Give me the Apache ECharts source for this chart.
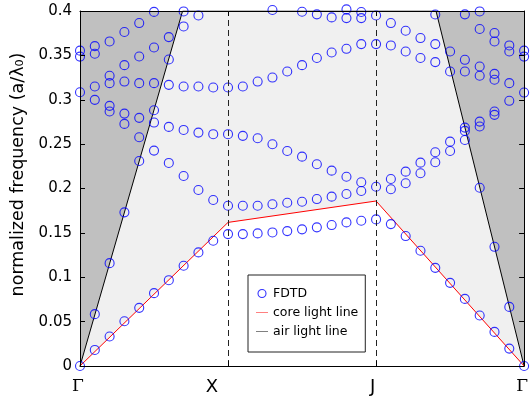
<!DOCTYPE html>
<html lang="en">
<head>
<meta charset="UTF-8">
<title>band diagram</title>
<script src="https://cdn.jsdelivr.net/npm/echarts@6/dist/echarts.min.js"></script>
<style>html,body{margin:0;padding:0;background:#fff;}</style>
</head>
<body>
<div id="main" style="width:531px;height:398px;"></div>
<script>
// k path positions (index along the path) and their labels
var kTicks = [0, 10, 20, 30];
var kLabels = ['Γ', 'X', 'J', 'Γ'];

// FDTD frequencies (a/λ0) read at each k index 0..30
var fdtd = [
    [0, 0.3084, 0.3486, 0.3553],
    [0.0181, 0.0584, 0.2999, 0.3149, 0.3518, 0.3604],
    [0.0332, 0.1159, 0.2867, 0.2931, 0.3187, 0.327, 0.3657],
    [0.0504, 0.1731, 0.2728, 0.2844, 0.3205, 0.339, 0.3763],
    [0.0655, 0.231, 0.2578, 0.2796, 0.3187, 0.3487, 0.3864],
    [0.0821, 0.2427, 0.2743, 0.2882, 0.3187, 0.3589, 0.399],
    [0.0967, 0.2288, 0.2694, 0.3168, 0.3454, 0.3706],
    [0.1129, 0.2141, 0.266, 0.3149, 0.3826, 0.3995],
    [0.128, 0.1983, 0.263, 0.3149, 0.395],
    [0.1411, 0.187, 0.2612, 0.3138],
    [0.1486, 0.1806, 0.2612, 0.3138],
    [0.1486, 0.1806, 0.2593, 0.3149],
    [0.1494, 0.1806, 0.2566, 0.3205],
    [0.1505, 0.1822, 0.2499, 0.325, 0.4011],
    [0.152, 0.184, 0.2423, 0.3318],
    [0.154, 0.1851, 0.2359, 0.339, 0.3992],
    [0.1562, 0.1881, 0.2273, 0.347, 0.3962],
    [0.1588, 0.1908, 0.2201, 0.3533, 0.3928],
    [0.1618, 0.1938, 0.2133, 0.3574, 0.392, 0.4018],
    [0.1637, 0.1972, 0.207, 0.3627, 0.392, 0.3989],
    [0.1652, 0.202, 0.3627, 0.395],
    [0.1599, 0.1991, 0.2107, 0.3612, 0.3864],
    [0.1464, 0.2059, 0.219, 0.3544, 0.3778],
    [0.1298, 0.2172, 0.2291, 0.347, 0.3695],
    [0.1106, 0.2296, 0.2409, 0.3424, 0.3627, 0.396],
    [0.0937, 0.2423, 0.2528, 0.3318, 0.3544],
    [0.0756, 0.2547, 0.2649, 0.2686, 0.3318, 0.345, 0.3962],
    [0.0569, 0.2009, 0.2698, 0.2754, 0.327, 0.3375, 0.3797, 0.3995],
    [0.0384, 0.1343, 0.283, 0.2867, 0.3225, 0.3292, 0.3657, 0.3752],
    [0.0196, 0.0666, 0.2988, 0.3187, 0.3544, 0.3612],
    [0, 0.3081, 0.3486, 0.3553]
];

// light lines (corner points)
var coreLineK = [0, 10, 20, 30];
var coreLineF = [0, 0.1618, 0.1859, 0];
var airLineK = [0, 6.93, 24.05, 30];
var airLineF = [0, 0.4, 0.4, 0];

var pts = [];
for (var k = 0; k < fdtd.length; k++) {
    for (var j = 0; j < fdtd[k].length; j++) pts.push([k, fdtd[k][j]]);
}
function pairs(xs, ys) {
    var out = [];
    for (var i = 0; i < xs.length; i++) out.push([xs[i], ys[i]]);
    return out;
}

var sans = 'DejaVu Sans';
var lineIcon = 'path://M0,0L24,0L24,1L0,1Z';
var myChart = echarts.init(document.getElementById('main'));

var frameLine = {show: true, onZero: false, lineStyle: {color: '#000', width: 1}};
var tick = {show: true, inside: true, length: 5, lineStyle: {color: '#000', width: 1}};

var option = {
    animation: false,
    grid: {left: 80, right: 2, top: 11, bottom: 32, show: true, backgroundColor: '#c0c0c0', borderWidth: 0},
    legend: {
        data: [
            {name: 'FDTD', icon: 'circle', itemStyle: {color: 'rgba(0,0,0,0)', borderColor: '#0000ff', borderWidth: 1.1}},
            {name: 'core light line', icon: lineIcon},
            {name: 'air light line', icon: lineIcon}
        ],
        orient: 'vertical', left: 248, top: 275,
        itemWidth: 12, itemHeight: 8, itemGap: 6,
        symbolKeepAspect: true,
        padding: [12, 7, 14, 8],
        backgroundColor: '#fff', borderColor: '#222', borderWidth: 1,
        selectedMode: false,
        textStyle: {fontFamily: sans, fontSize: 12.5, color: '#000'}
    },
    xAxis: [{
        type: 'value', min: 0, max: 30, interval: 10, position: 'bottom', z: 10,
        axisLine: frameLine, axisTick: tick, splitLine: {show: false},
        axisLabel: {
            margin: 12, color: '#000',
            formatter: function (v) {
                var i = kTicks.indexOf(v);
                return i < 0 ? '' : '{l' + i + '|' + kLabels[i] + '}';
            },
            rich: {
                l0: {fontFamily: 'DejaVu Serif', fontSize: 17, color: '#000', padding: [0, 4, 0, 0]},
                l1: {fontFamily: sans, fontSize: 18, color: '#000', padding: [0, 32, 0, 0]},
                l2: {fontFamily: sans, fontSize: 18, color: '#000', padding: [0, 7, 0, 0]},
                l3: {fontFamily: 'DejaVu Serif', fontSize: 17, color: '#000', padding: [0, 4, 0, 0]}
            }
        }
    }, {
        type: 'value', min: 0, max: 30, interval: 10, position: 'top', z: 10,
        axisLine: frameLine, axisTick: tick, splitLine: {show: false}, axisLabel: {show: false}
    }],
    yAxis: [{
        type: 'value', min: 0, max: 0.4, interval: 0.05, position: 'left', z: 10,
        axisLine: frameLine, axisTick: tick, splitLine: {show: false},
        axisLabel: {
            margin: 8, color: '#000', fontFamily: sans, fontSize: 15,
            formatter: function (v) { return String(+v.toFixed(2)); }
        },
        name: 'normalized frequency (a/λ₀)',
        nameLocation: 'middle', nameGap: 45,
        nameTextStyle: {fontFamily: sans, fontSize: 17.5, color: '#000', padding: [0, 0, 0, 28]}
    }, {
        type: 'value', min: 0, max: 0.4, interval: 0.05, position: 'right', z: 10,
        axisLine: frameLine, axisTick: tick, splitLine: {show: false}, axisLabel: {show: false}
    }],
    series: [{
        name: 'air light line', type: 'line', z: 1,
        data: pairs(airLineK, airLineF),
        symbol: 'none', silent: true,
        itemStyle: {color: '#000'},
        lineStyle: {color: '#000', width: 1},
        areaStyle: {color: '#f0f0f0', opacity: 1}
    }, {
        name: 'core light line', type: 'line', z: 2,
        data: pairs(coreLineK, coreLineF),
        symbol: 'none', silent: true,
        itemStyle: {color: '#ff0000'},
        lineStyle: {color: '#ff0000', width: 1},
        areaStyle: {color: '#ffffff', opacity: 1}
    }, {
        name: 'FDTD', type: 'scatter', z: 3, clip: false,
        data: pts,
        symbol: 'circle', symbolSize: 9,
        itemStyle: {color: 'rgba(0,0,0,0)', borderColor: '#0000ff', borderWidth: 1.1},
        markLine: {
            silent: true, symbol: 'none', label: {show: false},
            lineStyle: {color: '#222', width: 1, type: [6, 4]},
            data: [{xAxis: kTicks[1]}, {xAxis: kTicks[2]}]
        }
    }]
};
myChart.setOption(option);
</script>
</body>
</html>
